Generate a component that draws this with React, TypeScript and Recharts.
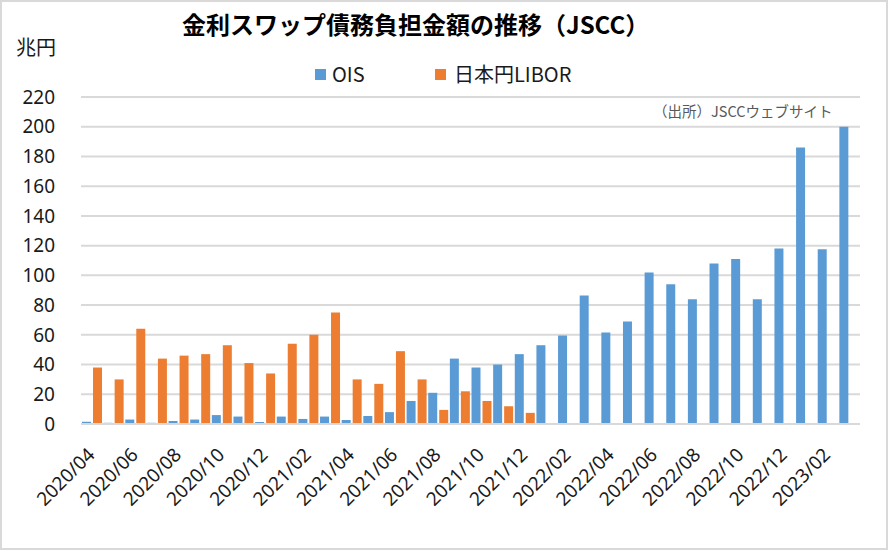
import React from 'react';
import { BarChart, Bar, XAxis, YAxis, CartesianGrid, Legend } from 'recharts';

// 月次（2020/04〜2023/03）
const months = [
  '2020/04', '2020/05', '2020/06', '2020/07', '2020/08', '2020/09',
  '2020/10', '2020/11', '2020/12', '2021/01', '2021/02', '2021/03',
  '2021/04', '2021/05', '2021/06', '2021/07', '2021/08', '2021/09',
  '2021/10', '2021/11', '2021/12', '2022/01', '2022/02', '2022/03',
  '2022/04', '2022/05', '2022/06', '2022/07', '2022/08', '2022/09',
  '2022/10', '2022/11', '2022/12', '2023/01', '2023/02', '2023/03',
];

// 兆円
const oisValues = [
  1.5, 0.8, 3, 0.8, 2, 3,
  6, 5, 1.4, 5, 3.4, 5,
  2.7, 5.4, 8, 15.5, 21, 44,
  38, 40, 47, 53, 59.5, 86.5,
  61.5, 69, 102, 94, 84, 108,
  111, 84, 118, 186, 117.5, 200,
];

const liborValues: (number | null)[] = [
  38, 30, 64, 44, 46, 47,
  53, 41, 34, 54, 60, 75,
  30, 27, 49, 30, 9.5, 22,
  15.5, 12, 7.5, null, null, null,
  null, null, null, null, null, null,
  null, null, null, null, null, null,
];

const yTicks = [0, 20, 40, 60, 80, 100, 120, 140, 160, 180, 200, 220];

const seriesNames = { ois: 'OIS', libor: '日本円LIBOR' };

const BLUE = '#5B9BD5';
const ORANGE = '#ED7D31';
const GRID = '#D9D9D9';
const FONT = '"Noto Sans", "Noto Sans CJK JP", sans-serif';
const JP_FONT = '"Noto Sans CJK JP", sans-serif';

const chartData = months.map((m, i) => ({
  month: m,
  ois: oisValues[i],
  libor: liborValues[i],
}));

const MonthTick = ({ x, y, payload }: any) => (
  <text
    x={0}
    y={0}
    transform={`translate(${x + 4},${y + 32}) rotate(-45)`}
    textAnchor="end"
    fontSize={19}
    fontFamily={FONT}
    fill="#1a1a1a"
  >
    {payload.value}
  </text>
);

const LegendContent = () => (
  <div style={{ position: 'relative', height: 22, fontFamily: JP_FONT, fontSize: 20, color: '#1a1a1a' }}>
    <span style={{ position: 'absolute', left: 0, top: 6, width: 11, height: 11, background: BLUE }} />
    <span style={{ position: 'absolute', left: 17, top: 0, lineHeight: '22px' }}>{seriesNames.ois}</span>
    <span style={{ position: 'absolute', left: 120, top: 6, width: 11, height: 11, background: ORANGE }} />
    <span style={{ position: 'absolute', left: 139, top: 0, lineHeight: '22px' }}>{seriesNames.libor}</span>
  </div>
);

export default function App() {
  return (
    <div style={{ position: 'absolute', left: 0, top: 0, width: 888, height: 550, background: '#fff' }}>
      <div
        style={{
          position: 'absolute', left: 182, top: 12, fontFamily: JP_FONT, fontWeight: 700,
          fontSize: 24, lineHeight: '24px', color: '#000', whiteSpace: 'nowrap',
        }}
      >
        金利スワップ債務負担金額の推移（JSCC）
      </div>
      <div
        style={{
          position: 'absolute', left: 16, top: 37, fontFamily: JP_FONT,
          fontSize: 20, lineHeight: '20px', color: '#1a1a1a',
        }}
      >
        兆円
      </div>
      <div
        style={{
          position: 'absolute', left: 653, top: 104, fontFamily: JP_FONT,
          fontSize: 14.5, lineHeight: '14.5px', color: '#595959', whiteSpace: 'nowrap', zIndex: 2,
        }}
      >
        （出所）JSCCウェブサイト
      </div>
      <BarChart
        width={888}
        height={550}
        data={chartData}
        margin={{ top: 97, right: 28, left: 0, bottom: 26 }}
        barSize={9}
        barGap={2}
      >
        <CartesianGrid vertical={false} stroke={GRID} strokeWidth={2} />
        <XAxis
          dataKey="month"
          interval={1}
          height={100}
          tickLine={false}
          tickSize={0}
          tickMargin={0}
          axisLine={{ stroke: GRID, strokeWidth: 2 }}
          tick={<MonthTick />}
        />
        <YAxis
          width={81}
          domain={[0, 220]}
          ticks={yTicks}
          interval={0}
          axisLine={false}
          tickLine={false}
          tickSize={0}
          tickMargin={26}
          tick={{ fontSize: 19, fontFamily: FONT, fill: '#1a1a1a' }}
        />
        <Legend
          layout="horizontal"
          verticalAlign="middle"
          align="center"
          wrapperStyle={{ top: 63, left: 315, width: 300 }}
          content={<LegendContent />}
        />
        <Bar dataKey="ois" name={seriesNames.ois} fill={BLUE} isAnimationActive={false} />
        <Bar dataKey="libor" name={seriesNames.libor} fill={ORANGE} isAnimationActive={false} />
      </BarChart>
      <div
        style={{
          position: 'absolute', left: 0, top: 0, width: 888, height: 550, boxSizing: 'border-box',
          border: `2px solid ${GRID}`, pointerEvents: 'none',
        }}
      />
    </div>
  );
}
